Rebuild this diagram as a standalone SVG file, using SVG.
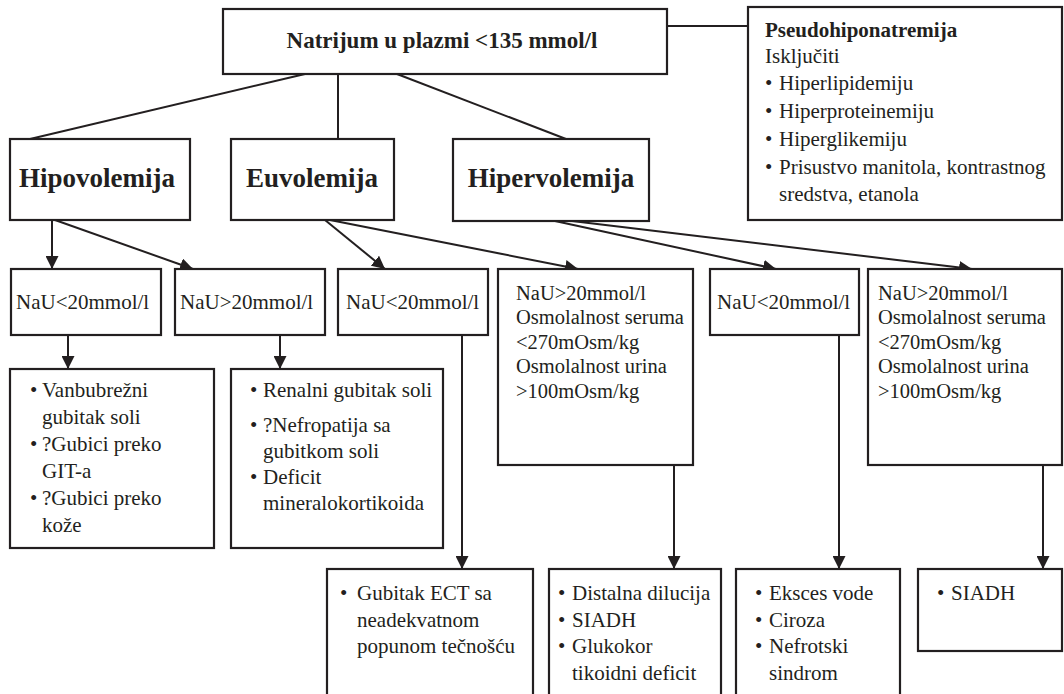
<svg xmlns="http://www.w3.org/2000/svg" width="1064" height="694" viewBox="0 0 1064 694" font-family="'Liberation Serif', Tinos, 'Times New Roman', Times, 'DejaVu Serif', serif">
  <style>
    .box { fill: #ffffff; stroke: #231f20; stroke-width: 2.2; }
    .line { fill: none; stroke: #231f20; stroke-width: 2; }
    .arrow { fill: none; stroke: #231f20; stroke-width: 2; marker-end: url(#head); }
    text { font-family: 'Liberation Serif', Tinos, 'Times New Roman', Times, 'DejaVu Serif', serif; fill: #231f20; }
    .t { font-size: 21px; }
    .s { font-size: 20.5px; }
    .title { font-size: 23px; font-weight: bold; text-anchor: middle; }
    .lvl { font-size: 27px; font-weight: bold; text-anchor: middle; }
    .b { font-size: 21px; font-weight: bold; }
  </style>
  <defs>
    <marker id="head" markerUnits="userSpaceOnUse" markerWidth="14" markerHeight="13" refX="13" refY="6.5" orient="auto">
      <path d="M0,0 L13,6.5 L0,13 z" fill="#231f20"/>
    </marker>
  </defs>
  <rect width="1064" height="694" fill="#ffffff"/>

  <!-- connectors -->
  <g id="connectors">
    <line class="line" x1="667" y1="26" x2="748" y2="26"/>
    <line class="line" x1="305" y1="74" x2="30" y2="139"/>
    <line class="line" x1="338" y1="74" x2="338" y2="139"/>
    <line class="line" x1="397" y1="74" x2="566" y2="139"/>
    <line class="arrow" x1="52" y1="220" x2="52" y2="269"/>
    <line class="arrow" x1="55" y1="220" x2="193" y2="269"/>
    <line class="arrow" x1="325" y1="220" x2="385" y2="269"/>
    <line class="arrow" x1="330" y1="220" x2="578" y2="269"/>
    <line class="arrow" x1="555" y1="221" x2="776" y2="269"/>
    <line class="arrow" x1="572" y1="221" x2="972" y2="269"/>
    <line class="arrow" x1="68" y1="335" x2="68" y2="369"/>
    <line class="arrow" x1="280" y1="335" x2="280" y2="369"/>
    <line class="arrow" x1="462" y1="335" x2="462" y2="569"/>
    <line class="arrow" x1="674" y1="465" x2="674" y2="569"/>
    <line class="arrow" x1="839" y1="335" x2="839" y2="569"/>
    <line class="arrow" x1="1043" y1="465" x2="1043" y2="569"/>
  </g>

  <g id="natrijum">
    <rect class="box" x="223" y="9" width="444" height="65"/>
    <text class="title" x="442" y="48">Natrijum u plazmi &lt;135 mmol/l</text>
  </g>

  <g id="pseudohiponatremija">
    <rect class="box" x="748" y="7" width="314" height="213"/>
    <text class="b" x="765" y="37">Pseudohiponatremija</text>
    <text class="t" x="765" y="63">Isključiti</text>
    <text class="t"><tspan x="765" y="90">•</tspan><tspan x="779" y="90">Hiperlipidemiju</tspan></text>
    <text class="t"><tspan x="765" y="118">•</tspan><tspan x="779" y="118">Hiperproteinemiju</tspan></text>
    <text class="t"><tspan x="765" y="146">•</tspan><tspan x="779" y="146">Hiperglikemiju</tspan></text>
    <text class="t"><tspan x="765" y="174">•</tspan><tspan x="779" y="174">Prisustvo manitola, kontrastnog</tspan></text>
    <text class="t" x="779" y="201">sredstva, etanola</text>
  </g>

  <g id="hipovolemija">
    <rect class="box" x="10" y="139" width="180" height="81"/>
    <text class="lvl" x="97" y="187">Hipovolemija</text>
  </g>
  <g id="euvolemija">
    <rect class="box" x="231" y="139" width="163" height="81"/>
    <text class="lvl" x="312" y="187">Euvolemija</text>
  </g>
  <g id="hipervolemija">
    <rect class="box" x="453" y="139" width="196" height="82"/>
    <text class="lvl" x="551" y="187">Hipervolemija</text>
  </g>

  <g id="hipo-nau-low">
    <rect class="box" x="11" y="269" width="150" height="66"/>
    <text class="t" x="16" y="309">NaU&lt;20mmol/l</text>
  </g>
  <g id="hipo-nau-high">
    <rect class="box" x="175" y="269" width="150" height="66"/>
    <text class="t" x="180" y="309">NaU&gt;20mmol/l</text>
  </g>
  <g id="euvo-nau-low">
    <rect class="box" x="338" y="269" width="150" height="66"/>
    <text class="t" x="346" y="309">NaU&lt;20mmol/l</text>
  </g>
  <g id="euvo-nau-high">
    <rect class="box" x="498" y="269" width="195" height="196"/>
    <text class="s" x="516" y="300">NaU&gt;20mmol/l</text>
    <text class="s" x="516" y="324">Osmolalnost seruma</text>
    <text class="s" x="516" y="349">&lt;270mOsm/kg</text>
    <text class="s" x="516" y="373">Osmolalnost urina</text>
    <text class="s" x="516" y="398">&gt;100mOsm/kg</text>
  </g>
  <g id="hiper-nau-low">
    <rect class="box" x="710" y="269" width="149" height="66"/>
    <text class="t" x="717" y="309">NaU&lt;20mmol/l</text>
  </g>
  <g id="hiper-nau-high">
    <rect class="box" x="868" y="269" width="194" height="196"/>
    <text class="s" x="878" y="300">NaU&gt;20mmol/l</text>
    <text class="s" x="878" y="324">Osmolalnost seruma</text>
    <text class="s" x="878" y="349">&lt;270mOsm/kg</text>
    <text class="s" x="878" y="373">Osmolalnost urina</text>
    <text class="s" x="878" y="398">&gt;100mOsm/kg</text>
  </g>

  <g id="vanbubrezni">
    <rect class="box" x="10" y="369" width="204" height="179"/>
    <text class="t"><tspan x="30" y="397">•</tspan><tspan x="42" y="397">Vanbubrežni</tspan></text>
    <text class="t" x="42" y="424">gubitak soli</text>
    <text class="t"><tspan x="30" y="451">•</tspan><tspan x="42" y="451">?Gubici preko</tspan></text>
    <text class="t" x="42" y="478">GIT-a</text>
    <text class="t"><tspan x="30" y="505">•</tspan><tspan x="42" y="505">?Gubici preko</tspan></text>
    <text class="t" x="42" y="532">kože</text>
  </g>
  <g id="renalni">
    <rect class="box" x="231" y="369" width="212" height="179"/>
    <text class="t"><tspan x="250" y="397">•</tspan><tspan x="263" y="397">Renalni gubitak soli</tspan></text>
    <text class="t"><tspan x="250" y="432">•</tspan><tspan x="263" y="432">?Nefropatija sa</tspan></text>
    <text class="t" x="263" y="458">gubitkom soli</text>
    <text class="t"><tspan x="250" y="484">•</tspan><tspan x="263" y="484">Deficit</tspan></text>
    <text class="t" x="263" y="510">mineralokortikoida</text>
  </g>

  <g id="gubitak-ect">
    <rect class="box" x="327" y="569" width="206" height="140"/>
    <text class="t"><tspan x="340" y="600">•</tspan><tspan x="357" y="600">Gubitak ECT sa</tspan></text>
    <text class="t" x="357" y="627">neadekvatnom</text>
    <text class="t" x="357" y="653">popunom tečnošću</text>
  </g>
  <g id="distalna">
    <rect class="box" x="549" y="569" width="172" height="140"/>
    <text class="t"><tspan x="558" y="600">•</tspan><tspan x="572" y="600">Distalna dilucija</tspan></text>
    <text class="t"><tspan x="558" y="627">•</tspan><tspan x="572" y="627">SIADH</tspan></text>
    <text class="t"><tspan x="558" y="653">•</tspan><tspan x="572" y="653">Glukokor</tspan></text>
    <text class="t" x="572" y="680">tikoidni deficit</text>
  </g>
  <g id="eksces">
    <rect class="box" x="736" y="569" width="164" height="140"/>
    <text class="t"><tspan x="755" y="600">•</tspan><tspan x="769" y="600">Eksces vode</tspan></text>
    <text class="t"><tspan x="755" y="627">•</tspan><tspan x="769" y="627">Ciroza</tspan></text>
    <text class="t"><tspan x="755" y="653">•</tspan><tspan x="769" y="653">Nefrotski</tspan></text>
    <text class="t" x="769" y="680">sindrom</text>
  </g>
  <g id="siadh">
    <rect class="box" x="918" y="569" width="144" height="82"/>
    <text class="t"><tspan x="937" y="600">•</tspan><tspan x="951" y="600">SIADH</tspan></text>
  </g>
</svg>
